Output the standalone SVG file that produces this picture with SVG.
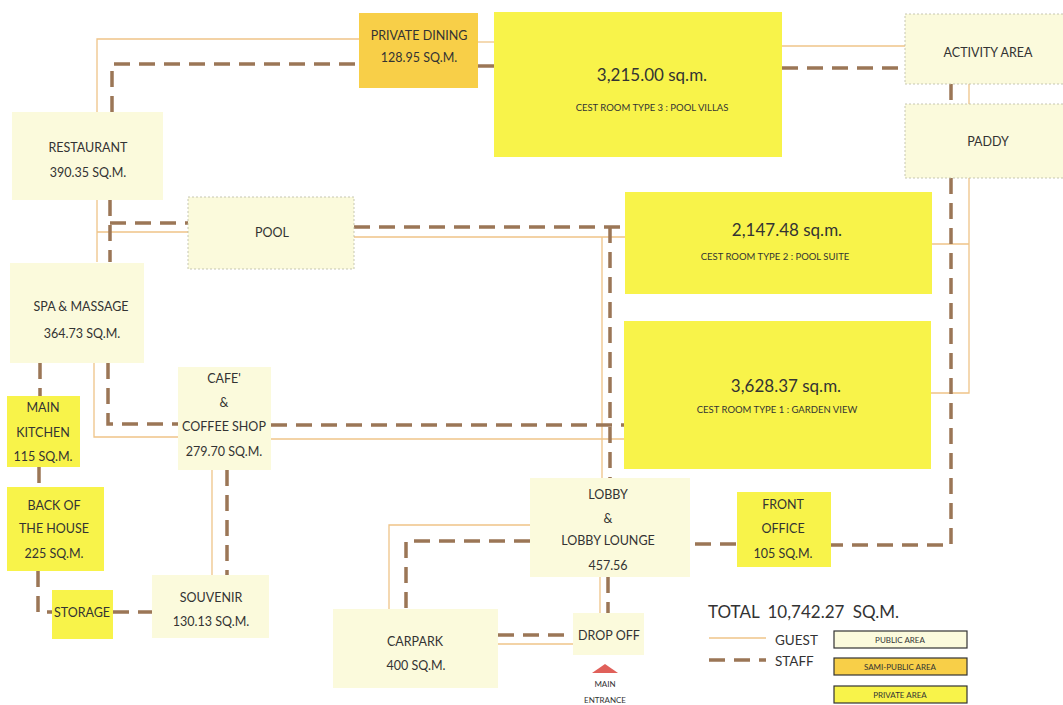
<svg xmlns="http://www.w3.org/2000/svg" width="1063" height="705" viewBox="0 0 1063 705">
<style>
.pub{fill:#fbfadc}
.semi{fill:#f8cf48}
.priv{fill:#f8f34a}
.dot{stroke:#b9b9a2;stroke-width:0.8;stroke-dasharray:2 2}
.staff{fill:none;stroke:#9b7656;stroke-width:3.5;stroke-dasharray:16 9}
.guest{fill:none;stroke:#efc488;stroke-width:1.3}
.t{font-family:Lato,"Liberation Sans",sans-serif;font-size:12.5px;fill:#333;text-anchor:middle}
.big{font-size:17px}
.sub{font-size:9.5px}
.lg{font-family:Lato,"Liberation Sans",sans-serif;fill:#333}
.lbox{stroke:#333;stroke-width:1.2}
.lt{font-family:Lato,"Liberation Sans",sans-serif;font-size:8px;fill:#333;text-anchor:middle}
</style>
<rect width="1063" height="705" fill="#ffffff"/>
<g id="connectors">
<g id="guest">
<path class="guest" d="M97,112 V39 H359"/>
<path class="guest" d="M478,42 H494"/>
<path class="guest" d="M782,46 H905"/>
<path class="guest" d="M969,84 V104"/>
<path class="guest" d="M969,178 V393 H930 M932,244 H969"/>
<path class="guest" d="M97,200 V262 M97,232 H188"/>
<path class="guest" d="M354,237 H625 M602,237 V478"/>
<path class="guest" d="M94,363 V437 H178"/>
<path class="guest" d="M271,439 H624"/>
<path class="guest" d="M212,470 V575"/>
<path class="guest" d="M530,525 H389 V609"/>
<path class="guest" d="M600,577 V613"/>
<path class="guest" d="M498,644 H573"/>
</g>
<g id="staff">
<path class="staff" d="M112,112 V64 H359"/>
<path class="staff" d="M478,66 H494"/>
<path class="staff" d="M782,68 H905"/>
<path class="staff" d="M951,84 V104"/>
<path class="staff" d="M951,178 V545 H831"/>
<path class="staff" d="M736,544 H690"/>
<path class="staff" d="M110,200 V262 M110,223 H188"/>
<path class="staff" d="M354,227 H625 M610,227 V478"/>
<path class="staff" d="M108,363 V424 H178"/>
<path class="staff" d="M271,425 H624"/>
<path class="staff" d="M40,363 V396"/>
<path class="staff" d="M39,467 V487"/>
<path class="staff" d="M38,571 V612 H52"/>
<path class="staff" d="M113,612 H152"/>
<path class="staff" d="M227,470 V575"/>
<path class="staff" d="M530,541 H406 V609"/>
<path class="staff" d="M608,577 V613"/>
<path class="staff" d="M498,635 H573"/>
</g>
</g>
<g id="private-dining"><rect class="semi" x="359" y="13" width="119" height="75"/><text class="t" x="419" y="39.5">PRIVATE DINING</text><text class="t" x="419" y="61.5">128.95 SQ.M.</text></g>
<g id="guest-room-3"><rect class="priv" x="494" y="12" width="288" height="145"/><text class="t big" x="652" y="81">3,215.00 sq.m.</text><text class="t sub" x="652" y="111">CEST ROOM TYPE 3 : POOL VILLAS</text></g>
<g id="activity-area"><rect class="pub dot" x="905" y="14" width="170" height="70"/><text class="t" x="988" y="56.5">ACTIVITY AREA</text></g>
<g id="paddy"><rect class="pub dot" x="905" y="104" width="170" height="74"/><text class="t" x="988" y="145.5">PADDY</text></g>
<g id="restaurant"><rect class="pub" x="12" y="112" width="151" height="88"/><text class="t" x="88" y="151.5">RESTAURANT</text><text class="t" x="88" y="176.5">390.35 SQ.M.</text></g>
<g id="pool"><rect class="pub dot" x="188" y="197" width="166" height="72"/><text class="t" x="272" y="236.5">POOL</text></g>
<g id="guest-room-2"><rect class="priv" x="625" y="192" width="307" height="102"/><text class="t big" x="787" y="236">2,147.48 sq.m.</text><text class="t sub" x="775" y="260">CEST ROOM TYPE 2 : POOL SUITE</text></g>
<g id="guest-room-1"><rect class="priv" x="624" y="321" width="307" height="148"/><text class="t big" x="786" y="392">3,628.37 sq.m.</text><text class="t sub" x="777" y="413">CEST ROOM TYPE 1 :  GARDEN VIEW</text></g>
<g id="spa"><rect class="pub" x="10" y="263" width="134" height="100"/><text class="t" x="81" y="310.5">SPA &amp; MASSAGE</text><text class="t" x="82" y="337.5">364.73 SQ.M.</text></g>
<g id="main-kitchen"><rect class="priv" x="7" y="396" width="73" height="71"/><text class="t" x="43" y="411.5">MAIN</text><text class="t" x="43" y="436.5">KITCHEN</text><text class="t" x="43" y="460.5">115 SQ.M.</text></g>
<g id="back-of-house"><rect class="priv" x="7" y="487" width="97" height="84"/><text class="t" x="54" y="509.5">BACK OF</text><text class="t" x="54" y="532.5">THE HOUSE</text><text class="t" x="54" y="557.5">225 SQ.M.</text></g>
<g id="storage"><rect class="priv" x="52" y="590" width="61" height="49"/><text class="t" x="82" y="616.5">STORAGE</text></g>
<g id="cafe"><rect class="pub" x="178" y="367" width="93" height="103"/><text class="t" x="224" y="382.5">CAFE'</text><text class="t" x="224" y="406.5">&amp;</text><text class="t" x="224" y="430.5">COFFEE SHOP</text><text class="t" x="224" y="455.5">279.70 SQ.M.</text></g>
<g id="souvenir"><rect class="pub" x="152" y="575" width="117" height="63"/><text class="t" x="211" y="601.5">SOUVENIR</text><text class="t" x="211" y="625.5">130.13 SQ.M.</text></g>
<g id="lobby"><rect class="pub" x="530" y="478" width="160" height="99"/><text class="t" x="608" y="498.5">LOBBY</text><text class="t" x="608" y="522.5">&amp;</text><text class="t" x="608" y="544.5">LOBBY LOUNGE</text><text class="t" x="608" y="569.5">457.56</text></g>
<g id="front-office"><rect class="priv" x="737" y="492" width="94" height="75"/><text class="t" x="783" y="508.5">FRONT</text><text class="t" x="783" y="532.5">OFFICE</text><text class="t" x="783" y="557.5">105 SQ.M.</text></g>
<g id="carpark"><rect class="pub" x="333" y="609" width="165" height="79"/><text class="t" x="415" y="645.5">CARPARK</text><text class="t" x="416" y="669.5">400 SQ.M.</text></g>
<g id="drop-off"><rect class="pub" x="573" y="613" width="71" height="42"/><text class="t" x="609" y="639.5">DROP OFF</text></g>
<g id="main-entrance"><polygon points="592,673 618,673 605,664" fill="#e0605a"/><text class="lt" x="605" y="687">MAIN</text><text class="lt" x="605" y="703">ENTRANCE</text></g>
<g id="legend">
<text class="lg" x="708" y="618" font-size="17" word-spacing="4">TOTAL 10,742.27 SQ.M.</text>
<path class="guest" d="M709,638 H766"/>
<path class="staff" d="M709,660 H766" stroke-dasharray="10 8"/>
<text class="lg" x="775" y="645" font-size="13.5">GUEST</text>
<text class="lg" x="775" y="666" font-size="13.5">STAFF</text>
<rect class="pub lbox" x="834" y="631" width="133" height="17"/><text class="lt" x="900" y="642.5">PUBLIC AREA</text>
<rect class="semi lbox" x="834" y="658" width="133" height="17"/><text class="lt" x="900" y="669.5">SAMI-PUBLIC AREA</text>
<rect class="priv lbox" x="834" y="686" width="133" height="17"/><text class="lt" x="900" y="697.5">PRIVATE AREA</text>
</g>
</svg>
